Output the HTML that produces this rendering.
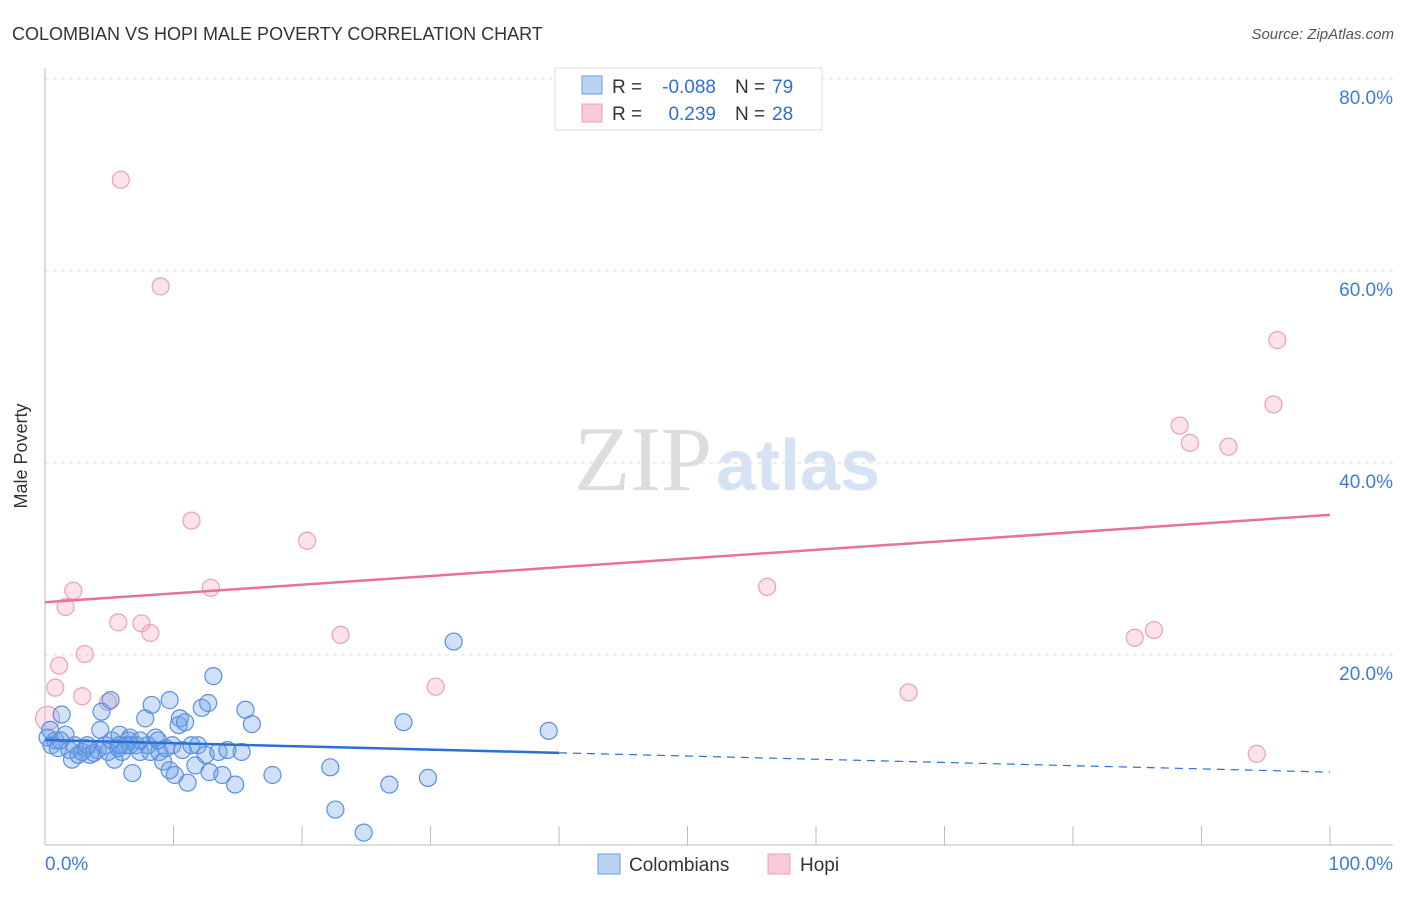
<!DOCTYPE html>
<html><head><meta charset="utf-8"><style>
body{margin:0;background:#fff;font-family:"Liberation Sans",sans-serif}
</style></head><body>
<svg width="1406" height="892" xmlns="http://www.w3.org/2000/svg" font-family="Liberation Sans, sans-serif">
<text x="12" y="40" font-size="18" fill="#333">COLOMBIAN VS HOPI MALE POVERTY CORRELATION CHART</text>
<text x="1394" y="39" font-size="15" fill="#555" font-style="italic" text-anchor="end">Source: ZipAtlas.com</text>
<text x="712" y="490" font-size="92" fill="#ddd" text-anchor="end" font-family="Liberation Serif, serif">ZIP</text>
<text x="716" y="490" font-size="72" fill="#d6e3f5" font-weight="bold">atlas</text>
<g id="grid"></g>
<g id="axes"></g>
<g id="marks"></g>
<text x="27" y="456" font-size="18" fill="#333" text-anchor="middle" transform="rotate(-90 27 456)">Male Poverty</text>
<g>
<rect x="555" y="68" width="267" height="62" fill="#fff" stroke="#ddd"/>
<rect x="582" y="76" width="20" height="18" fill="#b9d3f3" stroke="#6a9ee0"/>
<rect x="582" y="104" width="20" height="18" fill="#f9cad8" stroke="#eba0b8"/>
<text x="612" y="93" font-size="19" fill="#333">R =</text>
<text x="716" y="93" font-size="19" fill="#2e6fd4" text-anchor="end">-0.088</text>
<text x="735" y="93" font-size="19" fill="#333">N =</text>
<text x="772" y="93" font-size="19" fill="#2e6fd4">79</text>
<text x="612" y="120" font-size="19" fill="#333">R =</text>
<text x="716" y="120" font-size="19" fill="#2e6fd4" text-anchor="end">0.239</text>
<text x="735" y="120" font-size="19" fill="#333">N =</text>
<text x="772" y="120" font-size="19" fill="#2e6fd4">28</text>
</g>
<g>
<rect x="598" y="854" width="22" height="20" fill="#b9d3f3" stroke="#6a9ee0"/>
<text x="629" y="871" font-size="19" fill="#333">Colombians</text>
<rect x="768" y="854" width="22" height="20" fill="#f9cad8" stroke="#eba0b8"/>
<text x="800" y="871" font-size="19" fill="#333">Hopi</text>
</g>
</svg>
<script>
const blueX=[0.2,0.5,0.8,1.0,1.3,1.6,1.9,2.1,2.3,2.6,2.9,3.2,3.5,3.8,4.1,4.4,4.7,4.9,5.1,5.2,5.4,5.7,5.8,6.0,6.3,6.5,6.6,6.8,7.1,7.4,7.8,8.0,8.2,8.3,8.6,8.9,9.2,9.4,9.7,9.9,10.1,10.4,10.5,10.7,10.9,11.1,11.4,11.7,11.9,12.2,12.5,12.7,12.8,13.1,13.5,13.8,14.2,14.8,15.3,15.6,16.1,17.7,22.2,22.6,24.8,26.8,27.9,29.8,31.8,39.2,4.3,1.2,0.4,6.6,9.7,3.3,5.8,7.4,8.8];
const blueY=[11.4,10.6,11.1,10.3,13.8,11.7,10.1,9.1,10.6,9.6,9.9,10.3,9.6,9.8,10.1,14.1,10.6,9.9,15.3,11.1,9.1,10.3,11.7,9.9,10.6,11.1,11.4,7.7,10.6,9.9,13.4,10.6,9.9,14.8,11.4,9.9,8.9,10.3,15.3,10.6,7.5,12.7,13.4,10.1,13.0,6.7,10.6,8.5,10.6,14.5,9.6,15.0,7.8,17.8,9.9,7.5,10.1,6.5,9.9,14.3,12.8,7.5,8.3,3.9,1.5,6.5,13.0,7.2,21.4,12.1,12.2,11.1,12.2,10.6,8.0,10.6,10.6,11.1,11.1];
const pinkX=[5.9,9.0,11.4,20.4,12.9,2.2,1.6,5.7,7.5,8.2,3.1,1.1,0.8,2.9,4.9,0.2,23.0,30.4,56.2,67.2,84.8,86.3,88.3,89.1,92.1,95.6,95.9,94.3];
const pinkY=[69.5,58.4,34.0,31.9,27.0,26.7,25.0,23.4,23.3,22.3,20.1,18.9,16.6,15.7,15.1,13.4,22.1,16.7,27.1,16.1,21.8,22.6,43.9,42.1,41.7,46.1,52.8,9.7];
const yTicks=[20,40,60,80];
const yTickLabels=["20.0%","40.0%","60.0%","80.0%"];
const xTicks=[0,10,20,30,40,50,60,70,80,90,100];
const blueTrend=[11.15,7.8];
const pinkTrend=[25.5,34.6];
const blueSolidEnd=40;

const NS="http://www.w3.org/2000/svg";
const X=v=>45+v*12.85, Y=v=>847-v*9.6;
function mk(tag,attrs,parent){const e=document.createElementNS(NS,tag);for(const k in attrs)e.setAttribute(k,attrs[k]);document.getElementById(parent).appendChild(e);return e;}
yTicks.forEach((t,i)=>{
 const g=mk('line',{x1:45,x2:1393,y1:Y(t),y2:Y(t),stroke:'#ddd','stroke-dasharray':'4 4'},'grid');
 
 
 const l=mk('text',{x:1393,y:Y(t)+25,'font-size':19,fill:'#3d7bd9','text-anchor':'end'},'axes');
 l.textContent=yTickLabels[i];
 
 
});
const ax=mk('line',{x1:45,x2:45,y1:68,y2:845,stroke:'#bbb'},'axes');


const bx=mk('line',{x1:45,x2:1393,y1:845,y2:845,stroke:'#bbb'},'axes');


xTicks.forEach(t=>{const e=mk('line',{x1:X(t),x2:X(t),y1:826,y2:845,stroke:'#bbb'},'axes');
 
 });
const x0=mk('text',{x:45,y:870,'font-size':19,fill:'#3d7bd9'},'axes');x0.textContent='0.0%';


const x1=mk('text',{x:1393,y:870,'font-size':19,fill:'#3d7bd9','text-anchor':'end'},'axes');x1.textContent='100.0%';


pinkX.forEach((x,i)=>{const c=mk('circle',{cx:X(x),cy:Y(pinkY[i]),r:i==15?12:8.5,fill:'rgba(244,160,188,0.3)',stroke:'#eba0b8','stroke-width':1.2},'marks');
 
 });
blueX.forEach((x,i)=>{const c=mk('circle',{cx:X(x),cy:Y(blueY[i]),r:8.5,fill:'rgba(110,160,232,0.33)',stroke:'#5a90e0','stroke-width':1.2},'marks');
 
 });
const by=x=>blueTrend[0]+(blueTrend[1]-blueTrend[0])*x/100;
const t1=mk('line',{x1:X(0),y1:Y(by(0)),x2:X(blueSolidEnd),y2:Y(by(blueSolidEnd)),stroke:'#2a6fd6','stroke-width':2.5},'marks');


const t2=mk('line',{x1:X(blueSolidEnd),y1:Y(by(blueSolidEnd)),x2:X(100),y2:Y(by(100)),stroke:'#2a6fd6','stroke-width':1.2,'stroke-dasharray':'8 6'},'marks');


const t3=mk('line',{x1:X(0),y1:Y(pinkTrend[0]),x2:X(100),y2:Y(pinkTrend[1]),stroke:'#e8709a','stroke-width':2.5},'marks');


</script>
</body></html>
